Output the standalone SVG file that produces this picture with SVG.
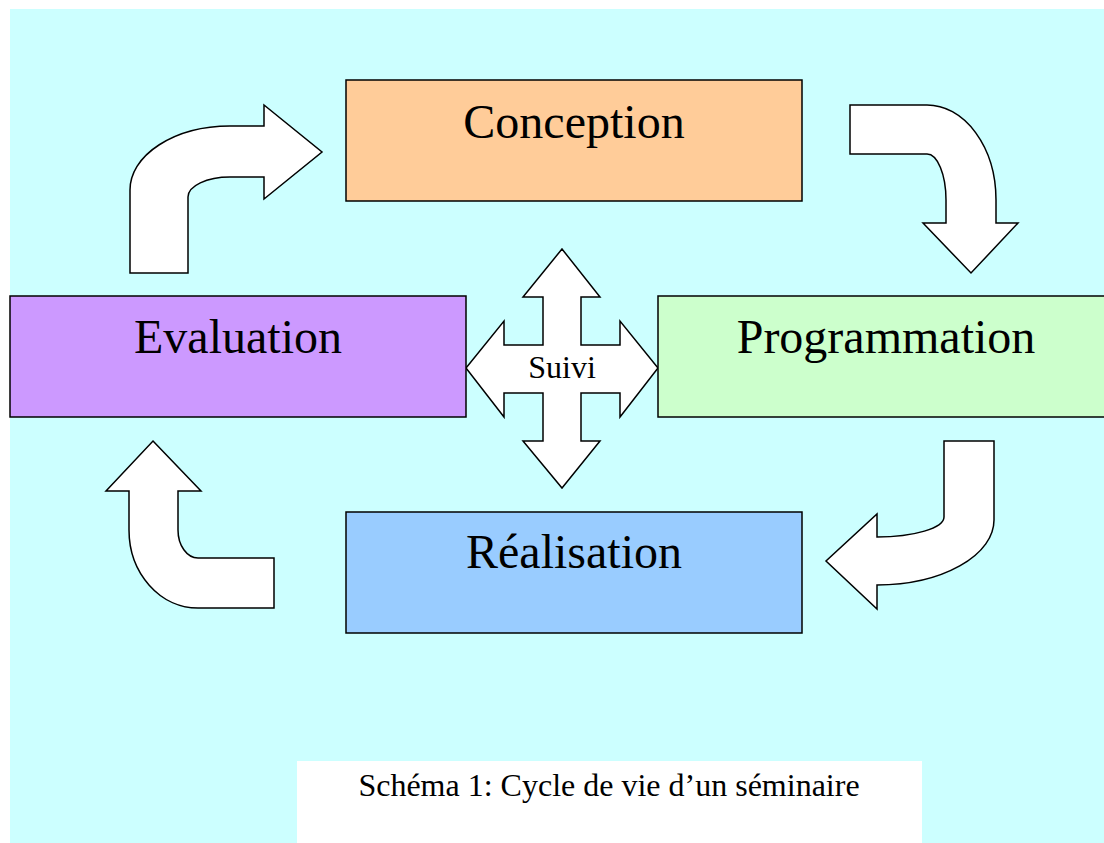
<svg xmlns="http://www.w3.org/2000/svg" width="1104" height="843" viewBox="0 0 1104 843">
  <style>
    .box { stroke: #000; stroke-width: 1.5; }
    .arrow { fill: #fff; stroke: #000; stroke-width: 1.5; stroke-linejoin: miter; }
    .label { font-family: "Liberation Serif", "Times New Roman", serif; font-size: 48px; fill: #000; text-anchor: middle; }
    .small { font-family: "Liberation Serif", "Times New Roman", serif; font-size: 32px; fill: #000; text-anchor: middle; }
  </style>
  <rect x="0" y="0" width="1104" height="843" fill="#fff"/>
  <rect x="10" y="9" width="1094" height="834" fill="#ccffff"/>

  <g id="connectors">
    <path class="arrow" d="M130,273 V190 A100,64 0 0 1 230,126 H264 V105 L322,152 L264,199 V177 H230 A42,20 0 0 0 188,197 V273 Z"/>
    <path class="arrow" d="M850,105 H927 A69,95 0 0 1 996,200 V223 H1018 L971,273 L923,223 H946 V200 A19,46 0 0 0 927,154 H850 Z"/>
    <path class="arrow" d="M944,441 H994 V520 A117,65 0 0 1 877,585 V609 L826,561 L877,514 V537 A67,20 0 0 0 944,517 Z"/>
    <path class="arrow" d="M153,441 L201,491 H178 V530 A20,28 0 0 0 198,558 H274 V608 H198 A69,78 0 0 1 129,530 V491 H106 Z"/>
  </g>

  <g id="suivi">
    <path class="arrow" d="M562,249 L600,297 H581 V345 H620 V321 L658,368 L620,417 V393 H581 V441 H600 L562,488 L523,441 H543 V393 H504 V417 L466,368 L504,321 V345 H543 V297 H523 Z"/>
    <text class="small" x="562" y="378">Suivi</text>
  </g>

  <g id="conception">
    <rect class="box" x="346" y="80" width="456" height="121" fill="#ffcc99"/>
    <text class="label" x="574" y="138">Conception</text>
  </g>

  <g id="evaluation">
    <rect class="box" x="10" y="296" width="456" height="121" fill="#cc99ff"/>
    <text class="label" x="238" y="353">Evaluation</text>
  </g>

  <g id="programmation">
    <rect class="box" x="658" y="296" width="456" height="121" fill="#ccffcc"/>
    <text class="label" x="886" y="353">Programmation</text>
  </g>

  <g id="realisation">
    <rect class="box" x="346" y="512" width="456" height="121" fill="#99ccff"/>
    <text class="label" x="574" y="568">Réalisation</text>
  </g>

  <g id="caption">
    <rect x="297" y="761" width="625" height="82" fill="#fff"/>
    <text class="small" x="609" y="796">Schéma 1: Cycle de vie d’un séminaire</text>
  </g>
</svg>
